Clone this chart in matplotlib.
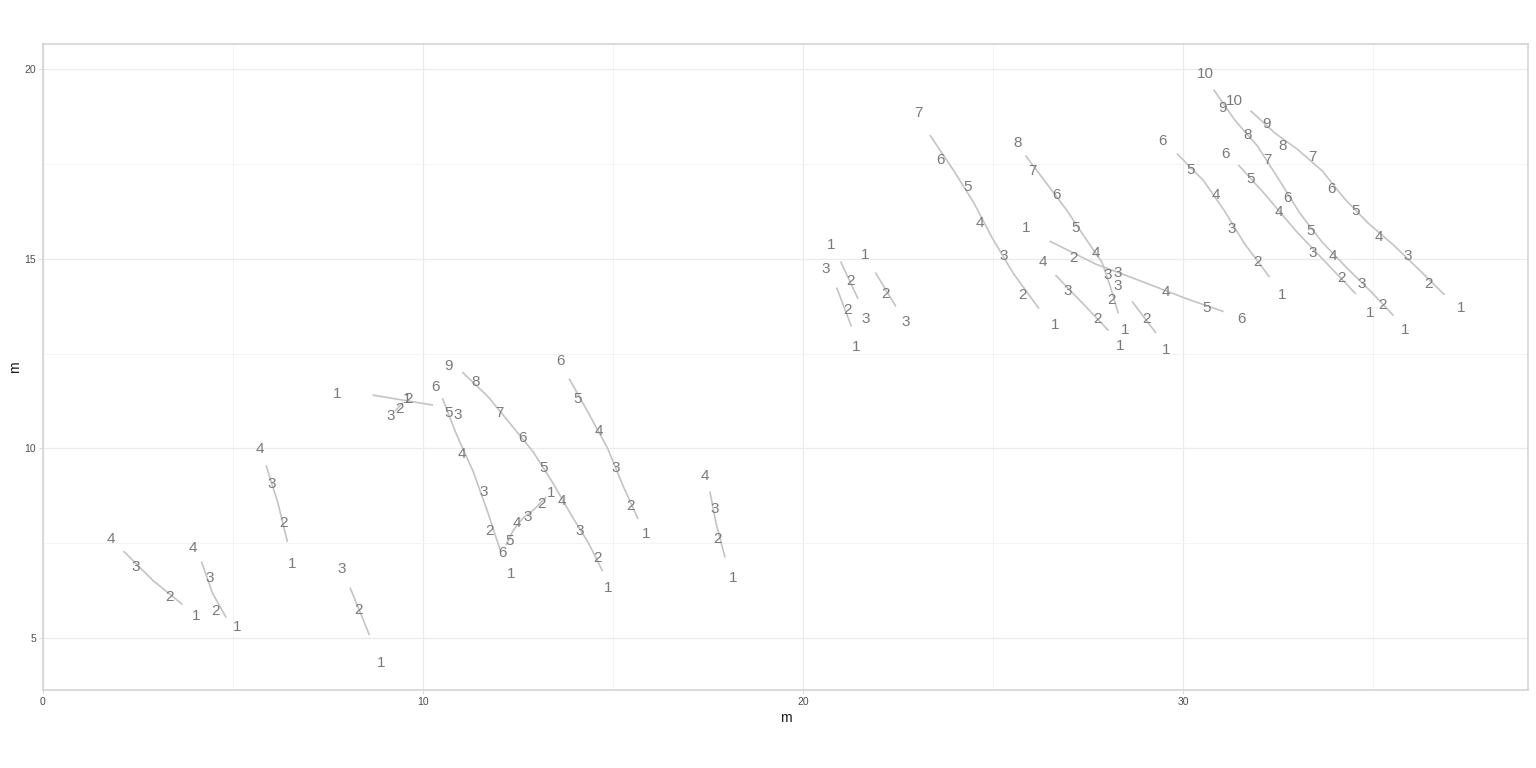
import matplotlib
matplotlib.use("Agg")
import matplotlib.pyplot as plt
import numpy as np

# track positions in metres, ordered by label 1..N
track_x = [
    [4.03, 3.32, 2.45, 1.79],
    [5.11, 4.53, 4.39, 3.95],
    [6.55, 6.32, 6.03, 5.71],
    [8.89, 8.29, 7.87],
    [7.74, 9.61, 10.92],
    [9.58, 9.37, 9.16],
    [12.32, 11.76, 11.61, 11.03, 10.68, 10.34],
    [13.37, 13.11, 12.76, 12.47, 12.29, 12.08],
    [14.87, 14.58, 14.13, 13.66, 13.18, 12.61, 12.00, 11.39, 10.68],
    [15.87, 15.45, 15.08, 14.63, 14.08, 13.61],
    [18.16, 17.74, 17.68, 17.42],
    [20.74, 21.24, 21.66],
    [21.63, 22.18, 22.71],
    [21.39, 21.16, 20.61],
    [26.63, 25.79, 25.29, 24.66, 24.34, 23.63, 23.05],
    [28.47, 28.13, 28.03, 27.71, 27.18, 26.68, 26.05, 25.66],
    [25.87, 27.11, 28.29, 29.55, 30.61, 31.53],
    [28.34, 27.74, 26.97, 26.32],
    [29.55, 29.03, 28.29],
    [32.61, 31.95, 31.29, 30.87, 30.21, 29.47],
    [34.92, 34.18, 33.42, 32.53, 31.79, 31.13],
    [35.84, 35.24, 34.71, 33.95, 33.37, 32.76, 32.21, 31.71, 31.03, 30.58],
    [37.32, 36.45, 35.92, 35.16, 34.55, 33.92, 33.42, 32.63, 32.21, 31.34],
]
track_y = [
    [5.63, 6.13, 6.92, 7.66],
    [5.32, 5.76, 6.61, 7.42],
    [6.98, 8.08, 9.09, 10.01],
    [4.37, 5.79, 6.87],
    [11.46, 11.35, 10.93],
    [11.33, 11.09, 10.88],
    [6.74, 7.85, 8.90, 9.88, 10.98, 11.67],
    [8.85, 8.58, 8.22, 8.08, 7.61, 7.29],
    [6.37, 7.16, 7.85, 8.66, 9.51, 10.32, 10.96, 11.80, 12.22],
    [7.77, 8.51, 9.51, 10.51, 11.35, 12.33],
    [6.61, 7.64, 8.43, 9.30],
    [15.41, 14.44, 13.44],
    [15.15, 14.12, 13.36],
    [12.72, 13.70, 14.78],
    [13.28, 14.09, 15.12, 15.99, 16.94, 17.65, 18.87],
    [13.15, 13.96, 14.62, 15.18, 15.86, 16.73, 17.36, 18.08],
    [15.86, 15.07, 14.65, 14.15, 13.75, 13.46],
    [12.75, 13.46, 14.20, 14.94],
    [12.64, 13.44, 14.31],
    [14.07, 14.96, 15.83, 16.73, 17.39, 18.15],
    [13.62, 14.52, 15.20, 16.26, 17.13, 17.81],
    [13.17, 13.83, 14.38, 15.10, 15.78, 16.65, 17.65, 18.29, 19.00, 19.92],
    [13.73, 14.36, 15.12, 15.60, 16.31, 16.89, 17.73, 18.02, 18.60, 19.21],
]

LINE = "#c4c4c4"
TXT = "#7a7a7a"
GRID = "#ebebeb"
BORDER = "#d4d4d4"

plt.rcParams["font.family"] = ["Liberation Sans", "DejaVu Sans"]
fig = plt.figure(figsize=(15.36, 7.68), dpi=100)
ax = fig.add_axes([43/1536, 1 - 690/768, (1528 - 43)/1536, (690 - 44)/768])

for xs, ys in zip(track_x, track_y):
    xs = np.asarray(xs); ys = np.asarray(ys)
    # smoothed path: midpoints between consecutive positions
    px = (xs[:-1] + xs[1:]) / 2
    py = (ys[:-1] + ys[1:]) / 2
    ax.plot(px, py, color=LINE, lw=1.2, solid_capstyle="butt",
            solid_joinstyle="round", zorder=2)
    for i, (x, y) in enumerate(zip(xs, ys)):
        ax.text(x, y, str(i + 1), ha="center", va="center_baseline",
                fontsize=11, color=TXT, zorder=3)

ax.set_xlim(0, 39.08)
ax.set_ylim(3.63, 20.66)
ax.set_xticks([0, 10, 20, 30])
ax.set_yticks([5, 10, 15, 20])
ax.set_xticks([5, 15, 25, 35], minor=True)
ax.set_yticks([7.5, 12.5, 17.5], minor=True)
ax.grid(True, which="major", color=GRID, lw=0.9, zorder=0)
ax.grid(True, which="minor", color="#f3f3f3", lw=0.6, zorder=0)
ax.set_axisbelow(True)
for s in ax.spines.values():
    s.set_color(BORDER)
    s.set_linewidth(1.2)
ax.tick_params(which="major", length=3, width=0.6, color=BORDER,
               labelsize=7.5, labelcolor="#4d4d4d", pad=2)
ax.tick_params(which="minor", length=0)
ax.set_xlabel("m", fontsize=10, color="#1a1a1a", labelpad=3)
ax.set_ylabel("m", fontsize=10, color="#1a1a1a", labelpad=2)

fig.savefig("out.png", dpi=100)
